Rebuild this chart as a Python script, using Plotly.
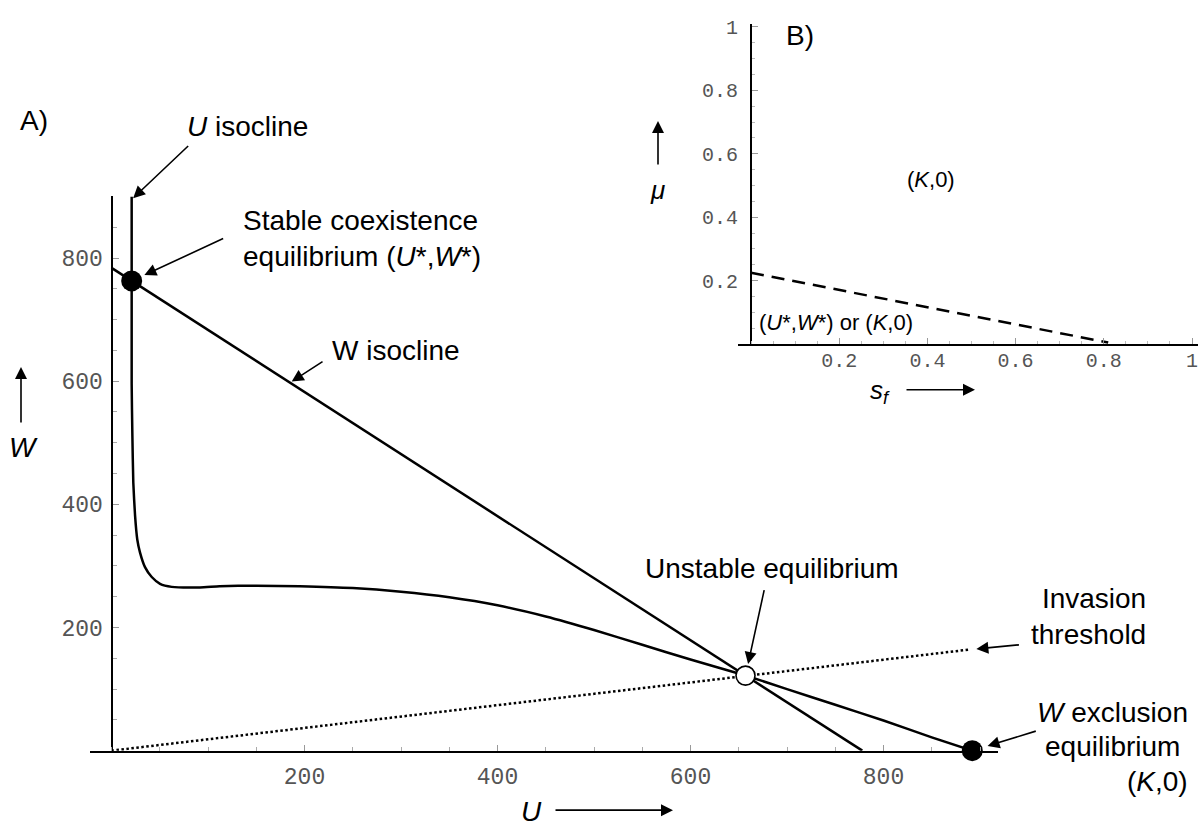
import plotly.graph_objects as go

# ---------------- data ----------------
U_TICKS = [200, 400, 600, 800]
U_TICK_TEXT = ["200", "400", "600", "800"]
W_TICKS = [200, 400, 600, 800]
W_TICK_TEXT = ["200", "400", "600", "800"]
SF_TICKS = [0.2, 0.4, 0.6, 0.8, 1.0]
SF_TICK_TEXT = ["0.2", "0.4", "0.6", "0.8", "1"]
MU_TICKS = [0.2, 0.4, 0.6, 0.8, 1.0]
MU_TICK_TEXT = ["0.2", "0.4", "0.6", "0.8", "1"]

# W isocline (straight line)
W_ISO_U = [0, 778]
W_ISO_W = [784, 0]

# U isocline (curve)
U_ISO_U = [20.9, 20.9, 21.6, 22.6, 24.4, 26.7, 29.5, 34.7, 41.7, 50.3,
           62.4, 91.7, 112, 150, 195, 250, 300, 350, 400, 450,
           500, 550, 600, 657, 700, 750, 800, 850, 892]
U_ISO_W = [900, 596, 515, 435, 382, 343, 322, 298, 282, 271,
           266, 265, 267, 268, 267, 264, 258, 249, 236, 218,
           196, 172, 148, 122, 100, 74.5, 49, 21.5, 0]

# invasion threshold (dotted)
THRESH_U = [0, 888]
THRESH_W = [0, 164]

# equilibria
STABLE_U, STABLE_W = [20.9, 892], [762.9, 0]      # filled: (U*,W*) and (K,0)
UNSTABLE_U, UNSTABLE_W = [657], [121.9]           # open circle

# panel B boundary (dashed)
SF_B = [0, 0.81]
MU_B = [0.225, 0.005]

# ---------------- layout helpers ----------------
W_PX, H_PX = 1198, 829
def px(x):
    return x / W_PX
def py(y):
    return 1 - y / H_PX

FONT = "Liberation Sans, Arial, sans-serif"
MONO = "Liberation Mono, Courier New, monospace"
TICK_COLOR_TXT = "#555555"

fig = go.Figure()

fig.add_trace(go.Scatter(x=W_ISO_U, y=W_ISO_W, mode="lines",
                         line=dict(color="black", width=2.5),
                         xaxis="x", yaxis="y", hoverinfo="skip"))
fig.add_trace(go.Scatter(x=U_ISO_U, y=U_ISO_W, mode="lines",
                         line=dict(color="black", width=2.5, shape="spline", smoothing=0.5),
                         xaxis="x", yaxis="y", hoverinfo="skip"))
fig.add_trace(go.Scatter(x=THRESH_U, y=THRESH_W, mode="lines",
                         line=dict(color="black", width=2.5, dash="2.5px,2.5px"),
                         xaxis="x", yaxis="y", hoverinfo="skip"))
fig.add_trace(go.Scatter(x=STABLE_U, y=STABLE_W, mode="markers", cliponaxis=False,
                         marker=dict(color="black", size=21, line=dict(width=0)),
                         xaxis="x", yaxis="y", hoverinfo="skip"))
fig.add_trace(go.Scatter(x=UNSTABLE_U, y=UNSTABLE_W, mode="markers", cliponaxis=False,
                         marker=dict(color="white", size=19, line=dict(color="black", width=1.6)),
                         xaxis="x", yaxis="y", hoverinfo="skip"))
fig.add_trace(go.Scatter(x=SF_B, y=MU_B, mode="lines",
                         line=dict(color="black", width=2.5, dash="13px,8px"),
                         xaxis="x2", yaxis="y2", hoverinfo="skip"))

# main axes geometry (pixels)
X0_PX, XPPU = 111.5, 0.965       # U=0 pixel, px per unit
# inset geometry
X20_PX, X2PPU = 751.0, 441.0
Y20_PX, Y2PPU = 340.0, 320.0

tick_common = dict(showgrid=False, zeroline=False, showline=True, linecolor="black",
                   linewidth=2, ticks="inside", tickcolor="#999", tickwidth=1)

fig.update_layout(
    width=W_PX, height=H_PX,
    margin=dict(l=0, r=0, t=0, b=0),
    paper_bgcolor="white", plot_bgcolor="rgba(0,0,0,0)",
    showlegend=False,
    xaxis=dict(domain=[px(90), px(998)],
               range=[(90 - X0_PX) / XPPU, (998 - X0_PX) / XPPU],
               anchor="y", tickmode="array", tickvals=U_TICKS, ticktext=U_TICK_TEXT,
               ticklen=6, ticklabelstandoff=4,
               tickfont=dict(family=MONO, size=23, color=TICK_COLOR_TXT),
               minor=dict(tickmode="linear", tick0=0, dtick=50, ticks="inside",
                          ticklen=4, tickcolor="#aaa"),
               **tick_common),
    yaxis=dict(domain=[py(750), py(191)], range=[0, (750 - 191) / 0.621],
               anchor="free", position=px(X0_PX),
               tickmode="array", tickvals=W_TICKS, ticktext=W_TICK_TEXT,
               ticklen=6, ticklabelstandoff=3,
               tickfont=dict(family=MONO, size=23, color=TICK_COLOR_TXT),
               minor=dict(tickmode="linear", tick0=0, dtick=50, ticks="inside",
                          ticklen=4, tickcolor="#aaa"),
               **tick_common),
    xaxis2=dict(domain=[px(738), 1.0],
                range=[(738 - X20_PX) / X2PPU, (1198 - X20_PX) / X2PPU],
                anchor="y2", tickmode="array", tickvals=SF_TICKS, ticktext=SF_TICK_TEXT,
                ticklen=6, ticklabelstandoff=-3, ticklabeloverflow="allow",
                tickfont=dict(family=MONO, size=20, color=TICK_COLOR_TXT),
                minor=dict(tickmode="linear", tick0=0, dtick=0.05, ticks="inside",
                           ticklen=3, tickcolor="#bbb"),
                **tick_common),
    yaxis2=dict(domain=[py(340), py(17)], range=[0, (340 - 17) / Y2PPU],
                anchor="free", position=px(X20_PX),
                tickmode="array", tickvals=MU_TICKS, ticktext=MU_TICK_TEXT,
                ticklen=6, ticklabelstandoff=8,
                tickfont=dict(family=MONO, size=20, color=TICK_COLOR_TXT),
                minor=dict(tickmode="linear", tick0=0, dtick=0.05, ticks="inside",
                           ticklen=3, tickcolor="#bbb"),
                **tick_common),
)

ann = []
def text(x, y, t, size=28, xanchor="center", align="center"):
    ann.append(dict(x=px(x), y=py(y), xref="paper", yref="paper", text=t,
                    showarrow=False, xanchor=xanchor, yanchor="middle", align=align,
                    font=dict(family=FONT, size=size, color="black")))

def arrow_data(xd, yd, ax, ay, xref="x", yref="y", standoff=0):
    ann.append(dict(x=xd, y=yd, xref=xref, yref=yref, ax=ax, ay=ay, text="",
                    showarrow=True, arrowhead=2, arrowsize=1.5, arrowwidth=1.6,
                    arrowcolor="black", standoff=standoff))

def arrow_px(x0, y0, x1, y1):
    ann.append(dict(x=px(x1), y=py(y1), xref="paper", yref="paper",
                    ax=x0 - x1, ay=y0 - y1, text="",
                    showarrow=True, arrowhead=2, arrowsize=1.5, arrowwidth=1.6,
                    arrowcolor="black"))

# panel A texts
text(34, 114, "A)")
text(247, 121, "<i>U</i> isocline")
arrow_data(U_ISO_U[0], 895, 58, -55, standoff=2)
text(241, 233, "Stable coexistence<br>equilibrium (<i>U</i>*,<i>W</i>*)", xanchor="left", align="left")
arrow_data(STABLE_U[0], STABLE_W[0], 93, -43, standoff=14)
text(330, 346, "W isocline", xanchor="left")
arrow_data(185, 784 * (1 - 185 / 778), 34, -22, standoff=2)
text(772, 566, "Unstable equilibrium")
arrow_data(UNSTABLE_U[0], UNSTABLE_W[0], 19, -87, standoff=12)
text(1148, 615, "Invasion<br>threshold", xanchor="right", align="right")
arrow_data(THRESH_U[1], THRESH_W[1], 52, -5, standoff=8)
text(1190, 712, "<i>W</i> exclusion", xanchor="right", align="right")
text(1182, 746, "equilibrium", xanchor="right", align="right")
text(1190, 781, "(<i>K</i>,0)", xanchor="right", align="right")
arrow_data(STABLE_U[1], STABLE_W[1], 65, -20, standoff=16)

# axis labels panel A
text(23, 444, "<i>W</i>")
arrow_px(21, 420, 21, 363)
text(531, 811, "<i>U</i>")
arrow_px(554, 810, 673, 810)

# panel B texts
text(800, 29, "B)")
text(931, 174, "(<i>K</i>,0)", size=22)
text(836, 318, "(<i>U</i>*,<i>W</i>*) or (<i>K</i>,0)", size=22)
text(657, 185, "<i>μ</i>", size=26)
arrow_px(658, 160, 658, 115)
text(880, 388, "<i>s</i><sub><i>f</i></sub>", size=26)
arrow_px(905, 386, 975, 386)

fig.update_layout(annotations=ann)

fig.write_html("out.html")
